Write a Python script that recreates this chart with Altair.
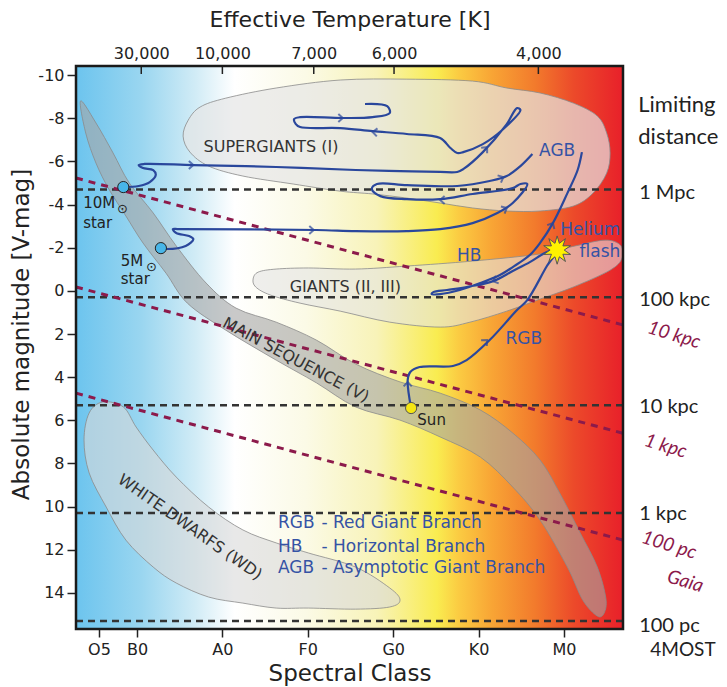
import math
import json
import altair as alt
import pandas as pd

W, H = 547, 563

# ---------------- axes ----------------
SPEC_POS = [0.555, 1, 2, 3, 4, 5, 6]
SPEC_LAB = ["O5", "B0", "A0", "F0", "G0", "K0", "M0"]
TEMP_POS = [1.05, 2.0, 3.07, 4.01, 5.70]
TEMP_LAB = ["30,000", "10,000", "7,000", "6,000", "4,000"]
MAG_TICKS = [-10, -8, -6, -4, -2, 0, 2, 4, 6, 8, 10, 12, 14]
X_DOM = [0.286, 6.691]
Y_DOM = [-10.42, 15.67]

# ---------------- regions (spectral position, abs. magnitude) ----------------
MS_S = [0.34, 0.52, 0.72, 0.91, 1.19, 1.46, 1.81, 2.16, 2.63, 3.10, 3.56, 4.08, 4.55, 5.02, 5.40, 5.72,
        5.95, 6.19, 6.39, 6.49, 6.47,
        6.39, 6.22, 6.04, 5.72, 5.40, 5.02, 4.55, 4.08, 3.56, 3.10, 2.63, 2.04, 1.59, 1.34, 1.07, 0.87,
        0.67, 0.52, 0.40]
MS_M = [-8.80, -7.78, -6.39, -5.00, -3.61, -2.08, -0.36, 0.80, 1.45, 2.28, 3.39, 4.22, 4.74, 5.52, 6.59, 7.84,
        9.37, 11.22, 12.80, 14.24, 14.93,
        15.07, 14.33, 12.80, 10.62, 9.09, 7.70, 6.77, 5.99, 5.38, 4.26, 3.21, 1.82, 0.57, -0.82, -2.22, -3.47,
        -4.72, -5.92, -7.31]

SG_S = [1.54, 1.60, 1.74, 2.04, 2.63, 3.38, 4.16, 4.93, 5.33, 5.72, 6.11, 6.39, 6.50, 6.54, 6.50, 6.34,
        6.11, 5.72, 5.33, 4.93, 4.55, 4.16, 3.76, 3.38, 2.83, 2.24, 1.84, 1.62]
SG_M = [-7.17, -7.91, -8.52, -8.93, -9.40, -9.77, -9.81, -9.72, -9.40, -9.17, -8.70, -8.10, -7.31, -6.39,
        -5.46, -4.53, -3.93, -3.70, -3.70, -3.84, -4.07, -4.30, -4.49, -4.62, -4.95, -5.32, -5.78, -6.43]

GI_S = [2.36, 2.42, 2.63, 3.01, 3.56, 4.16, 4.93, 5.72, 6.13, 6.48, 6.66, 6.68, 6.54, 6.11, 5.72, 5.33,
        4.90, 4.55, 3.96, 3.38, 2.91, 2.56, 2.39]
GI_M = [-0.55, -0.87, -1.01, -1.06, -1.01, -1.15, -1.38, -1.71, -2.08, -2.35, -2.12, -1.52, -0.96, -0.18,
        0.38, 0.94, 1.45, 1.68, 1.45, 0.94, 0.57, 0.19, -0.18]

WD_S = [0.60, 0.84, 0.99, 1.19, 1.46, 1.84, 2.24, 2.63, 3.01, 3.56, 3.96, 4.08, 3.96, 3.56, 3.01, 2.63,
        2.24, 1.84, 1.46, 1.19, 0.87, 0.64, 0.44, 0.38, 0.44]
WD_M = [5.15, 5.38, 6.31, 7.38, 8.63, 10.02, 11.08, 11.68, 12.15, 12.80, 13.77, 14.33, 14.65, 14.75, 14.70,
        14.70, 14.47, 14.19, 13.54, 12.80, 11.55, 10.02, 8.44, 6.91, 5.66]

# ---------------- evolutionary tracks ----------------
T10_S = [0.84, 1.02, 1.15, 1.22, 1.19, 1.07, 1.02, 1.09, 1.66, 2.63, 3.56, 4.08, 4.55, 4.75, 4.82, 5.05,
         5.33, 5.45, 5.49, 5.29, 5.05, 4.82, 4.75, 4.67, 4.55, 4.16, 3.76, 3.38, 2.91, 2.86, 2.84, 2.91,
         3.41, 3.76, 3.96, 3.93, 3.67]
T10_M = [-4.81, -4.86, -5.04, -5.37, -5.60, -5.69, -5.83, -5.88, -5.83, -5.74, -5.60, -5.55, -5.51, -5.51,
         -5.64, -6.43, -7.73, -8.47, -8.38, -7.50, -6.80, -6.43, -6.39, -6.62, -7.08, -7.27, -7.40, -7.54,
         -7.59, -7.73, -7.96, -8.05, -8.01, -8.05, -8.24, -8.56, -8.66]

T5_S = [1.28, 1.34, 1.57, 1.66, 1.61, 1.46, 1.42, 1.49, 3.10, 3.56, 4.16, 4.55, 4.93, 5.22, 5.40, 5.57,
        5.49, 5.40, 4.93, 4.55, 4.16, 3.85, 3.75, 3.81, 4.16, 4.75, 5.13, 5.33, 5.49, 5.63]
T5_M = [-1.98, -1.94, -2.08, -2.40, -2.54, -2.68, -2.86, -2.86, -2.82, -2.77, -2.77, -2.86, -3.14, -3.61,
        -4.07, -4.95, -4.95, -4.76, -4.49, -4.25, -4.25, -4.39, -4.72, -4.95, -4.90, -4.86, -5.09, -5.32,
        -5.78, -6.34]

TS_S = [4.21, 4.17, 4.20, 4.31, 4.70, 4.86, 5.13, 5.45, 5.57, 5.80, 5.92, 5.80, 5.60, 5.40, 5.17, 4.86,
        4.63, 4.47, 4.45, 4.55, 4.78, 5.02, 5.25, 5.40, 5.60, 5.72, 5.87, 6.04, 6.16, 6.21]
TS_M = [5.43, 4.13, 3.76, 3.53, 3.48, 3.21, 2.28, 0.89, 0.43, -1.15, -1.89, -1.80, -1.33, -0.92, -0.45,
        -0.18, -0.04, 0.06, 0.15, 0.15, -0.04, -0.36, -0.73, -1.10, -1.66, -2.22, -3.14, -4.53, -5.60, -6.43]

ARR_S = [1.66, 3.41, 3.76, 5.10, 3.07, 4.55, 5.29, 5.33, 4.17, 5.10, 5.17, 5.87]
ARR_M = [-5.83, -8.01, -7.36, -6.66, -2.82, -4.21, -5.27, -3.84, 4.22, 2.28, -0.45, -3.14]
ARR_ANG = [0, 0, 185, 312, 0, 180, 335, 333, 270, 315, 160, 298]

STARS_S = [0.84, 1.28]
STARS_M = [-4.81, -1.98]
SUN_S, SUN_M = [4.21], [5.43]
FLASH_S, FLASH_M = [5.92], [-1.89]

# ---------------- limiting distances ----------------
LIM_M = [-4.7, 0.3, 5.3, 10.3, 15.3]
LIM_LAB = ["1 Mpc", "100 kpc", "10 kpc", "1 kpc", "100 pc"]
LIM_LAB_M = [-4.55, 0.43, 5.38, 10.34, 15.55]
GAIA_M_LEFT = [-5.23, -0.18, 4.74]
GAIA_M_RIGHT = [1.58, 6.60, 11.55]
GAIA_LAB = ["10 kpc", "1 kpc", "100 pc", "Gaia"]
GAIA_LAB_S = [7.29, 7.19, 7.23, 7.42]
GAIA_LAB_M = [2.04, 7.19, 11.78, 13.46]

# ---------------- text labels ----------------
INT_LAB = ["SUPERGIANTS (I)", "GIANTS (II, III)", "MAIN SEQUENCE (V)", "WHITE DWARFS (WD)"]
INT_S = [2.57, 3.44, 2.86, 1.62]
INT_M = [-6.66, -0.18, 3.21, 10.95]
INT_ANG = [0, 0, 28, 35]
MASS_LAB = ["10M", "star", "5M", "star"]
MASS_S = [0.37, 0.37, 0.81, 0.81]
MASS_M = [-4.07, -3.14, -1.38, -0.55]
SOL_S = [0.83, 1.17]
SOL_M = [-3.78, -1.12]
BL_LAB = ["AGB", "HB", "RGB"]
BL_S = [5.92, 4.89, 5.53]
BL_M = [-6.48, -1.61, 2.23]
HEL_LAB = ["Helium", "flash"]
HEL_S = [6.66, 6.66]
HEL_M = [-2.82, -1.80]
LEG_A = ["RGB", "HB", "AGB"]
LEG_B = ["- Red Giant Branch", "- Horizontal Branch", "- Asymptotic Giant Branch"]
LEG_M = [10.76, 11.87, 12.85]
HEAD_LAB = ["Limiting", "distance"]
HEAD_M = [-8.61, -7.13]

# ---------------- styles ----------------
BLUE = "#2a479c"
TBLUE = "#3553a5"
MAROON = "#8c1a4b"
DARK = "#222222"
FONT = "DejaVu Sans"
RFONT = "Lato"
GRAD_OFF = [0.0, 0.12, 0.22, 0.29, 0.42, 0.55, 0.66, 0.70, 0.76, 0.84, 0.91, 1.0]
GRAD_COL = ["#6cc4ee", "#9ad6f0", "#d2ecf6", "#ffffff", "#fbfae6", "#f8f3b8", "#f9ec50",
            "#fbcb42", "#f8a535", "#f27a2c", "#ec4a2a", "#e8202a"]

XSC = alt.Scale(domain=X_DOM, nice=False, zero=False)
YSC = alt.Scale(domain=Y_DOM, nice=False, zero=False, reverse=True)


def X(f):
    return alt.X(f, type="quantitative", scale=XSC, axis=None)


def Y(f):
    return alt.Y(f, type="quantitative", scale=YSC, axis=None)


def pts(s, m, **extra):
    d = {"s": s, "m": m, "i": list(range(len(s)))}
    d.update(extra)
    return pd.DataFrame(d)


# star-burst symbol path for the helium flash
_p = []
for k in range(20):
    r = 1.0 if k % 2 == 0 else 0.5
    a = math.pi * k / 10 - math.pi / 2
    _p.append(f"{r * math.cos(a):.3f},{r * math.sin(a):.3f}")
STAR_PATH = "M" + "L".join(_p) + "Z"
ARROW_PATH = "M-1,-0.9L0,0L-1,0.9"

layers = []

# background gradient
layers.append(
    alt.Chart(pd.DataFrame({"k": [0]})).mark_rect(
        fill=alt.Gradient(
            gradient="linear",
            stops=[alt.GradientStop(color=c, offset=o) for o, c in zip(GRAD_OFF, GRAD_COL)],
            x1=0, x2=1, y1=0, y2=0,
        )
    ).encode(x=alt.value(0), x2=alt.value(W), y=alt.value(0), y2=alt.value(H))
)

# axes (bottom + left)
spec_expr = f"{json.dumps(SPEC_LAB)}[indexof({json.dumps(SPEC_POS)}, datum.value)]"
temp_expr = f"{json.dumps(TEMP_LAB)}[indexof({json.dumps(TEMP_POS)}, datum.value)]"
layers.append(
    alt.Chart(pts(MS_S, MS_M)).mark_point(opacity=0).encode(
        x=alt.X("s:Q", scale=XSC, axis=alt.Axis(
            orient="bottom", values=SPEC_POS, labelExpr=spec_expr, title="Spectral Class",
            titleFont=FONT, titleFontSize=23, titleFontWeight="normal", titleColor=DARK,
            titleY=44, titleBaseline="middle",
            labelFont=FONT, labelFontSize=16, labelColor=DARK, labelPadding=4,
            tickSize=8, tickColor=DARK, tickWidth=1.5, domain=False, grid=False)),
        y=alt.Y("m:Q", scale=YSC, axis=alt.Axis(
            orient="left", values=MAG_TICKS, labelExpr="toString(datum.value)",
            title="Absolute magnitude [V-mag]",
            titleFont=FONT, titleFontSize=23, titleFontWeight="normal", titleColor=DARK,
            titleX=-55, titleY=268, titleBaseline="middle",
            labelFont=FONT, labelFontSize=16, labelColor=DARK, labelPadding=3,
            tickSize=9, tickColor=DARK, tickWidth=1.5, domain=False, grid=False)),
    )
)

# top temperature axis with inward ticks
layers.append(
    alt.Chart(pd.DataFrame({"t": TEMP_POS})).mark_rule(color=DARK, strokeWidth=1.5).encode(
        x=alt.X("t:Q", scale=XSC, axis=alt.Axis(
            orient="top", values=TEMP_POS, labelExpr=temp_expr, title="Effective Temperature [K]",
            titleFont=FONT, titleFontSize=22, titleFontWeight="normal", titleColor=DARK,
            titleY=-47, titleBaseline="middle",
            labelFont=FONT, labelFontSize=16, labelColor=DARK, labelPadding=5,
            ticks=False, tickSize=0, domain=False, grid=False)),
        y=alt.value(0), y2=alt.value(8),
    )
)


def region(s, m, fill, op):
    return alt.Chart(pts(s, m)).mark_line(
        interpolate="cardinal-closed", fill=fill, fillOpacity=op, stroke="#8a8a8a",
        strokeWidth=0.8, clip=True
    ).encode(x=X("s"), y=Y("m"), order="i:Q")


layers.append(region(SG_S, SG_M, "#e6e6e6", 0.7))
layers.append(region(GI_S, GI_M, "#e4e4e4", 0.6))
layers.append(region(WD_S, WD_M, "#d8d8d8", 0.6))
layers.append(region(MS_S, MS_M, "#a5a5a5", 0.6))

# limiting distance lines
layers.append(
    alt.Chart(pd.DataFrame({"m": LIM_M})).mark_rule(
        color="#333333", strokeWidth=2.5, strokeDash=[7, 5]).encode(y=Y("m"))
)
layers.append(
    alt.Chart(pd.DataFrame({"s1": [X_DOM[0]] * 3, "s2": [X_DOM[1]] * 3,
                            "m1": GAIA_M_LEFT, "m2": GAIA_M_RIGHT})).mark_rule(
        color=MAROON, strokeWidth=3, strokeDash=[7, 6]).encode(
        x=X("s1"), x2="s2", y=Y("m1"), y2="m2")
)


def track(s, m):
    return alt.Chart(pts(s, m)).mark_line(
        interpolate="catmull-rom", stroke=BLUE, strokeWidth=2.2
    ).encode(x=X("s"), y=Y("m"), order="i:Q")


layers.append(track(T10_S, T10_M))
layers.append(track(T5_S, T5_M))
layers.append(track(TS_S, TS_M))

layers.append(
    alt.Chart(pts(ARR_S, ARR_M, a=ARR_ANG)).mark_point(
        shape=ARROW_PATH, size=80, filled=False, color=BLUE, strokeWidth=2
    ).encode(x=X("s"), y=Y("m"), angle=alt.Angle("a:Q", scale=None))
)
layers.append(
    alt.Chart(pts(STARS_S, STARS_M)).mark_point(
        shape="circle", filled=True, size=125, fill="#48b6e8", stroke="#222222", strokeWidth=1, opacity=1
    ).encode(x=X("s"), y=Y("m"))
)
layers.append(
    alt.Chart(pts(SUN_S, SUN_M)).mark_point(
        shape="circle", filled=True, size=125, fill="#f5e612", stroke="#555555", strokeWidth=1, opacity=1
    ).encode(x=X("s"), y=Y("m"))
)
layers.append(
    alt.Chart(pts(FLASH_S, FLASH_M)).mark_point(
        shape=STAR_PATH, filled=True, size=800, fill="#fff200", stroke="#555555", strokeWidth=1, opacity=1
    ).encode(x=X("s"), y=Y("m"))
)


def texts(lab, s, m, angle=None, **mk):
    d = pts(s, m, t=lab)
    enc = dict(x=X("s"), y=Y("m"), text="t:N")
    if angle is not None:
        d["a"] = angle
        enc["angle"] = alt.Angle("a:Q", scale=None)
    return alt.Chart(d).mark_text(**mk).encode(**enc)


layers.append(texts(INT_LAB, INT_S, INT_M, INT_ANG, font=FONT, fontSize=16, color="#333333",
                    baseline="middle"))
layers.append(texts(MASS_LAB, MASS_S, MASS_M, font=FONT, fontSize=15, color=DARK, align="left",
                    baseline="middle"))
layers.append(texts(["\u2299", "\u2299"], SOL_S, SOL_M, font=FONT, fontSize=13, color=DARK,
                    baseline="middle"))
layers.append(texts(["Sun"], [4.45], [5.99], font=FONT, fontSize=15, color=DARK, baseline="middle"))
layers.append(texts(BL_LAB, BL_S, BL_M, font=FONT, fontSize=17, color=TBLUE, baseline="middle"))
layers.append(texts(HEL_LAB, HEL_S, HEL_M, font=FONT, fontSize=17, color=TBLUE, align="right",
                    baseline="middle"))
layers.append(texts(LEG_A, [2.65] * 3, LEG_M, font=FONT, fontSize=17, color=TBLUE, align="left",
                    baseline="middle"))
layers.append(texts(LEG_B, [3.16] * 3, LEG_M, font=FONT, fontSize=17, color=TBLUE, align="left",
                    baseline="middle"))

# right-hand labels
layers.append(texts(HEAD_LAB, [6.87, 6.87], HEAD_M, font=RFONT, fontSize=22, color=DARK, align="left",
                    baseline="middle"))
layers.append(texts(LIM_LAB, [6.88] * 5, LIM_LAB_M, font=RFONT, fontSize=20, color=DARK, align="left",
                    baseline="middle"))
layers.append(texts(["4MOST"], [7.01], [16.64], font=RFONT, fontSize=19, color=DARK, align="left",
                    baseline="middle"))
layers.append(texts(GAIA_LAB, GAIA_LAB_S, GAIA_LAB_M, [17, 17, 17, 17], font=RFONT, fontSize=19,
                    fontStyle="italic", color=MAROON, baseline="middle"))

# frame on top
layers.append(
    alt.Chart(pd.DataFrame({"k": [0]})).mark_rect(
        fillOpacity=0, stroke="#1a1a1a", strokeWidth=2.5
    ).encode(x=alt.value(0), x2=alt.value(W), y=alt.value(0), y2=alt.value(H))
)

chart = alt.layer(*layers).resolve_axis(x="independent", y="independent").properties(
    width=W, height=H,
    padding={"left": 68, "top": 58, "right": 96, "bottom": 58},
    autosize=alt.AutoSizeParams(type="none"),
).configure_view(strokeWidth=0)

chart.save("out.html", embed_options={"renderer": "svg", "actions": False})
